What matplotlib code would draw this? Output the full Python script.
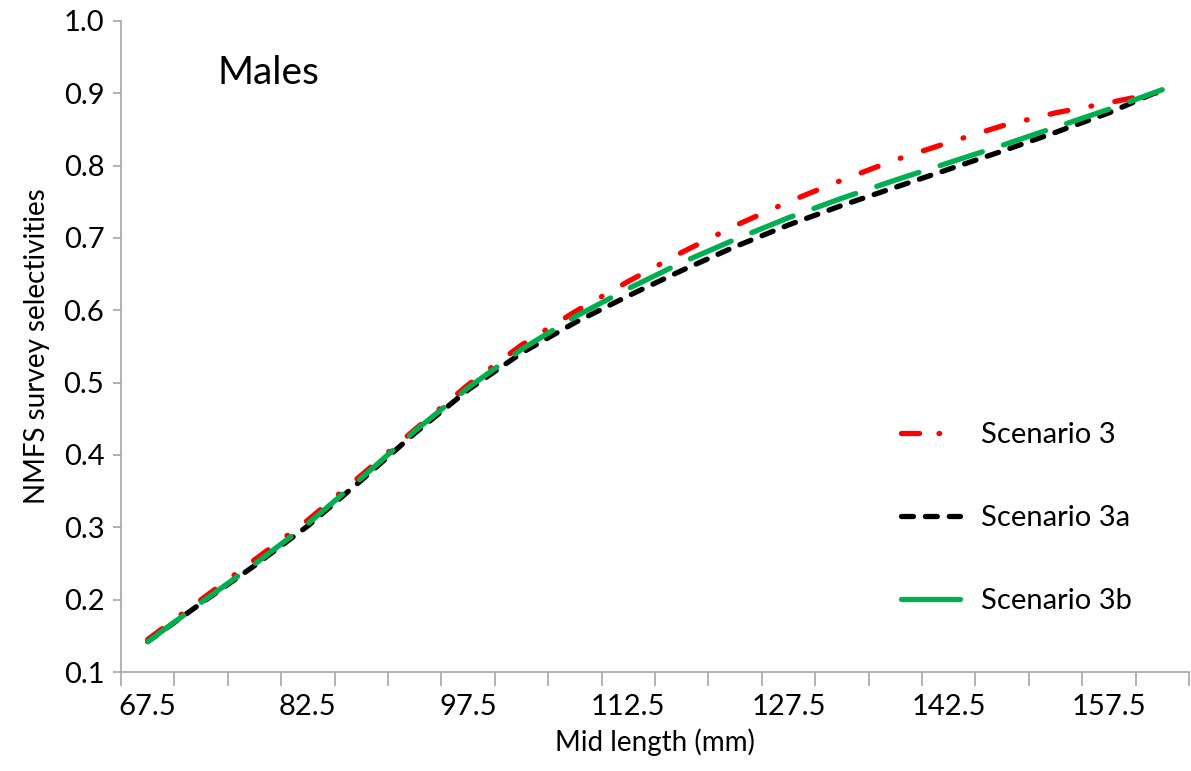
import numpy as np
import matplotlib
matplotlib.use("Agg")
import matplotlib.pyplot as plt
from matplotlib.lines import Line2D
from matplotlib.ticker import FixedLocator, NullFormatter

plt.rcParams['font.family'] = ['Lato', 'DejaVu Sans']
plt.rcParams['lines.scale_dashes'] = False

# mid length categories (mm)
mid_length = [67.5 + 5 * i for i in range(20)]

# selectivities
scen3 = [0.145, 0.200, 0.255, 0.310, 0.372, 0.435, 0.497, 0.552, 0.598, 0.640,
         0.680, 0.717, 0.750, 0.780, 0.808, 0.832, 0.855, 0.873, 0.887, 0.902]
scen3a = [0.142, 0.195, 0.247, 0.302, 0.365, 0.430, 0.490, 0.541, 0.583, 0.620,
          0.655, 0.688, 0.718, 0.745, 0.770, 0.795, 0.820, 0.846, 0.873, 0.905]
scen3b = [0.142, 0.196, 0.249, 0.305, 0.368, 0.433, 0.493, 0.546, 0.591, 0.630,
          0.666, 0.698, 0.728, 0.755, 0.780, 0.804, 0.828, 0.853, 0.878, 0.905]

x = np.arange(len(mid_length))

fig = plt.figure(figsize=(11.91, 7.71), dpi=100)
ax = fig.add_axes([0.1016, 0.1284, 0.8967, 0.8444])

lw = 3.8
red_dash = (13, 17, 0.5, 17)
black_dash = (8.6, 8.6)
green_dash = (32, 16)
ax.plot(x, scen3, color='#FF0000', lw=lw, dashes=red_dash, dash_capstyle='round')
ax.plot(x, scen3a, color='black', lw=lw, dashes=black_dash, dash_capstyle='round')
ax.plot(x, scen3b, color='#00B050', lw=lw, dashes=green_dash, dash_capstyle='round')

ax.set_xlim(-0.5, len(mid_length) - 0.5)
ax.set_ylim(0.1, 1.0)

# categories: labels every 3rd, tick marks at category borders
ax.set_xticks(x[::3])
ax.set_xticklabels([f"{v:.1f}" for v in mid_length[::3]])
ax.xaxis.set_minor_locator(FixedLocator(np.arange(-0.5, len(mid_length), 1)))
ax.xaxis.set_minor_formatter(NullFormatter())
ax.tick_params(axis='x', which='major', length=0, pad=16, labelsize=21)
ax.tick_params(axis='x', which='minor', length=10, width=1.2, color='#A6A6A6')

ax.set_yticks(np.arange(0.1, 1.01, 0.1))
ax.set_yticklabels([f"{v:.1f}" for v in np.arange(0.1, 1.01, 0.1)])
ax.tick_params(axis='y', length=6, width=1.2, color='#A6A6A6', labelsize=21, pad=6)

for s in ['top', 'right']:
    ax.spines[s].set_visible(False)
for s in ['left', 'bottom']:
    ax.spines[s].set_color('#A6A6A6')
    ax.spines[s].set_linewidth(1.2)

ax.set_xlabel("Mid length (mm)", fontsize=20, labelpad=6)
ax.set_ylabel("NMFS survey selectivities", fontsize=20, labelpad=10)

ax.text(0.09, 0.92, "Males", transform=ax.transAxes, fontsize=28, va='center')

# legend handles drawn short, as in the source chart
handles = [
    Line2D([], [], color='#FF0000', lw=lw, dashes=(13, 14, 0.5, 30), dash_capstyle='round'),
    Line2D([], [], color='black', lw=lw, dashes=black_dash, dash_capstyle='round'),
    Line2D([], [], color='#00B050', lw=lw, solid_capstyle='round'),
]
labels = ['Scenario 3', 'Scenario 3a', 'Scenario 3b']
ax.legend(handles, labels, loc='center left', bbox_to_anchor=(0.706, 0.236),
          frameon=False, fontsize=21, labelspacing=1.95, handlelength=2.0,
          handletextpad=0.75)

fig.savefig("out.png", dpi=100)
